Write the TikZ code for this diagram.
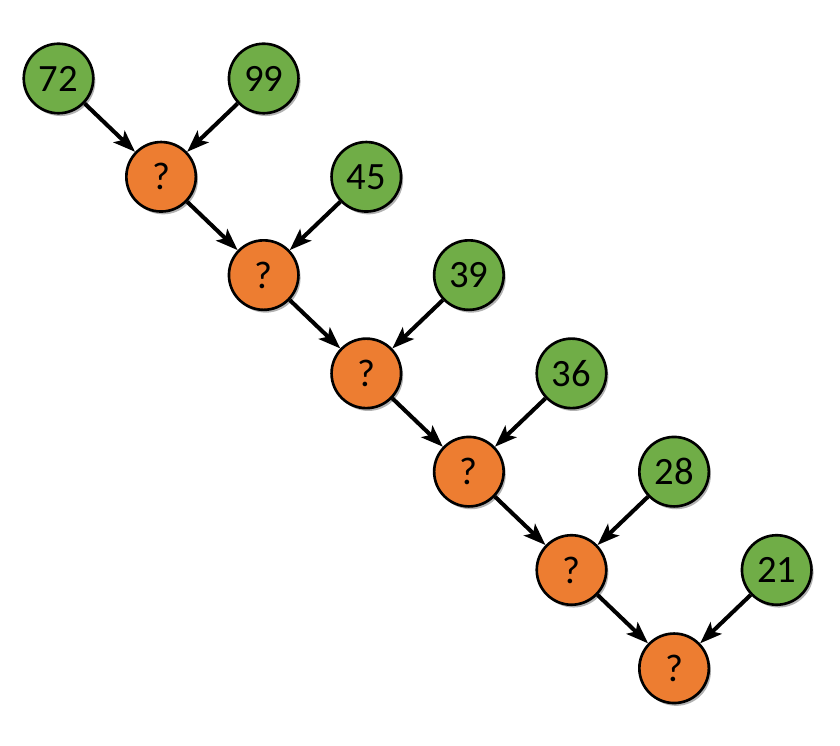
\documentclass[tikz,border=0pt]{standalone}
\usepackage{fontspec}
\setmainfont{Carlito}
\usepackage{tikz}
\usetikzlibrary{arrows.meta,shadows}
\definecolor{leafgreen}{RGB}{112,173,71}
\definecolor{sumorange}{RGB}{237,125,49}

\begin{document}
\begin{tikzpicture}[
    ball/.style={circle, draw=black, line width=0.75pt, minimum size=0.695cm, inner sep=0pt,
        font=\fontsize{11}{13}\selectfont,
        drop shadow={shadow xshift=0.6pt, shadow yshift=-0.8pt, fill=black, opacity=0.3}},
    leaf/.style={ball, fill=leafgreen},
    sum/.style={ball, fill=sumorange},
    link/.style={-{Stealth[length=0.22cm, width=0.16cm, inset=0.05cm]}, line width=1.15pt}
]
    % Canvas
    \useasboundingbox[fill=white] (0,0) rectangle (8.4,-7.46);

    % First value
    \node[leaf] (g0) at (0.585,-0.785) {72};

    % Values and partial sums down the diagonal
    \foreach \v [count=\k] in {99,45,39,36,28,21} {
        \node[leaf] (g\k) at ({2.637+1.026*(\k-1)},{-0.785-0.983*(\k-1)}) {\v};
        \node[sum] (q\k) at ({1.611+1.026*(\k-1)},{-1.768-0.983*(\k-1)}) {?};
    }

    % Arrows
    \draw[link] (g0) -- (q1);
    \foreach \k in {1,...,6}
        \draw[link] (g\k) -- (q\k);
    \foreach \p/\k in {1/2,2/3,3/4,4/5,5/6}
        \draw[link] (q\p) -- (q\k);
\end{tikzpicture}
\end{document}
